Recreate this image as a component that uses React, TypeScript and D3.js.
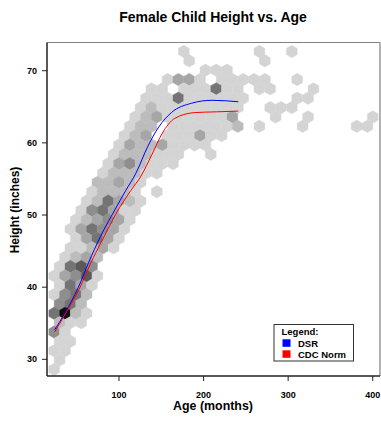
import React from "react";
import * as d3 from "d3";

const W = 381;
const H = 422;

const X_TICKS = [100, 200, 300, 400];
const Y_TICKS = [30, 40, 50, 60, 70];

// Smoothed growth curves (age in months, height in inches)
const DSR_AGE = [24, 36, 52, 64, 78, 95, 108, 120, 134, 147, 162, 186, 210, 241];
const DSR_HEIGHT = [34.1, 36.4, 40.0, 43.4, 47.0, 50.7, 53.4, 55.8, 59.5, 62.2, 64.2, 65.5, 65.9, 65.7];
const CDC_AGE = [24, 38, 54, 66, 81, 97, 114, 126, 139, 151, 166, 190, 215, 241];
const CDC_HEIGHT = [33.8, 36.6, 40.0, 43.2, 46.7, 50.3, 53.4, 55.4, 58.4, 61.3, 63.4, 64.2, 64.3, 64.4];

// Hexagonal binning lattice, in data units
const BIN_AGE_ORIGIN = 36.15;
const BIN_AGE_WIDTH = 12.77;
const BIN_HEIGHT_ORIGIN = 36.38;
const BIN_HEIGHT_STEP = 1.296;

// Count class of each occupied bin: [lattice row, first column, classes ('.' = empty)]
const HEX_ROWS: [number, number, string][] = [
  [28, 11, "1......1..1"],
  [27, 11, "1......1"],
  [26, 13, "111"],
  [25, 9, "1331.11111..1"],
  [24, 8, "11.111511.11...1"],
  [23, 7, "1115111111....11"],
  [22, 7, "1211111111..111"],
  [21, 6, "1231111113...1..1.....1"],
  [20, 6, "122.1111112.1...1....11"],
  [19, 5, "123.111311"],
  [18, 5, "132231111"],
  [17, 4, "1222111..1"],
  [16, 4, "1342111"],
  [15, 3, "122211"],
  [14, 3, "22321"],
  [13, 2, "12221.1"],
  [12, 2, "125321"],
  [11, 1, "145311"],
  [10, 1, "123431"],
  [9, 0, "135431"],
  [8, 1, "13531"],
  [7, 0, "11231"],
  [6, 0, "1232"],
  [5, -1, "1564"],
  [4, -1, "13461"],
  [3, -1, "1531"],
  [2, -1, "1452"],
  [1, -1, "452"],
  [0, -1, "5821"],
  [-1, -1, "211"],
  [-2, -1, "41"],
  [-3, -1, "11"],
  [-4, -1, "11"],
  [-5, -1, "1"],
  [-6, -1, "1"],
];

const SHADES = ["#d4d4d4", "#bcbcbc", "#a6a6a6", "#8e8e8e", "#747474", "#5a5a5a", "#3a3a3a", "#0e0e0e"];

const FONT = "'Liberation Sans', Arial, Helvetica, sans-serif";

const PLOT = { left: 47, right: 380, top: 42.5, bottom: 376 };

export default function App() {
  const x = d3.scaleLinear().domain([14.86, 408.6]).range([PLOT.left, PLOT.right]);
  const y = d3.scaleLinear().domain([27.69, 73.91]).range([PLOT.bottom, PLOT.top]);

  const hexW = x(BIN_AGE_WIDTH) - x(0);
  const r = hexW / Math.sqrt(3);
  const hexPath =
    `M0,${-r}L${hexW / 2},${-r / 2}L${hexW / 2},${r / 2}L0,${r}` +
    `L${-hexW / 2},${r / 2}L${-hexW / 2},${-r / 2}Z`;

  const cells: { age: number; height: number; level: number }[] = [];
  HEX_ROWS.forEach(([row, first, classes]) => {
    const shift = Math.abs(row) % 2 === 1 ? 0.5 : 0;
    for (let k = 0; k < classes.length; k++) {
      const c = classes[k];
      if (c === ".") continue;
      const col = first + k;
      cells.push({
        age: BIN_AGE_ORIGIN + (col + shift) * BIN_AGE_WIDTH,
        height: BIN_HEIGHT_ORIGIN + row * BIN_HEIGHT_STEP,
        level: +c,
      });
    }
  });

  const line = d3
    .line<[number, number]>()
    .x((d) => x(d[0]))
    .y((d) => y(d[1]))
    .curve(d3.curveMonotoneX);

  const dsr = line(DSR_AGE.map((a, i) => [a, DSR_HEIGHT[i]] as [number, number])) || "";
  const cdc = line(CDC_AGE.map((a, i) => [a, CDC_HEIGHT[i]] as [number, number])) || "";

  return (
    <svg
      width={W}
      height={H}
      viewBox={`0 0 ${W} ${H}`}
      style={{ position: "absolute", left: 0, top: 0, background: "#fff" }}
      fontFamily={FONT}
    >
      <rect x={0} y={0} width={W} height={H} fill="#fff" />

      <g>
        {cells.map((c, i) => {
          const fill = SHADES[c.level - 1];
          return (
            <path
              key={i}
              d={hexPath}
              transform={`translate(${x(c.age)},${y(c.height)})`}
              fill={fill}
              stroke={fill}
              strokeWidth={0.4}
            />
          );
        })}
      </g>

      <path d={dsr} fill="none" stroke="#0000ff" strokeWidth={1} />
      <path d={cdc} fill="none" stroke="#ff0000" strokeWidth={1} />

      {/* plot frame */}
      <line x1={PLOT.left} x2={PLOT.right} y1={PLOT.top} y2={PLOT.top} stroke="#808080" strokeWidth={1.2} />
      <line x1={PLOT.right} x2={PLOT.right} y1={PLOT.top} y2={PLOT.bottom} stroke="#808080" strokeWidth={1.2} />
      <line x1={PLOT.left} x2={PLOT.left} y1={PLOT.top} y2={PLOT.bottom} stroke="#222" strokeWidth={1.5} />
      <line x1={PLOT.left} x2={PLOT.right} y1={PLOT.bottom} y2={PLOT.bottom} stroke="#222" strokeWidth={1.5} />

      {/* x axis */}
      {X_TICKS.map((t) => (
        <g key={t} transform={`translate(${x(t)},${PLOT.bottom})`}>
          <line y1={0} y2={5} stroke="#222" strokeWidth={1} />
          <text y={22} textAnchor="middle" fontSize={9} fontWeight="bold">
            {t}
          </text>
        </g>
      ))}
      <text x={213} y={410} textAnchor="middle" fontSize={12.4} fontWeight="bold">
        Age (months)
      </text>

      {/* y axis */}
      {Y_TICKS.map((t) => (
        <g key={t} transform={`translate(${PLOT.left},${y(t)})`}>
          <line x1={0} x2={-5} stroke="#222" strokeWidth={1} />
          <text x={-10} dy="0.35em" textAnchor="end" fontSize={9} fontWeight="bold">
            {t}
          </text>
        </g>
      ))}
      <text
        transform={`translate(19,210) rotate(-90)`}
        textAnchor="middle"
        fontSize={12}
        fontWeight="bold"
      >
        Height (inches)
      </text>

      <text x={213} y={22} textAnchor="middle" fontSize={14} fontWeight="bold">
        Female Child Height vs. Age
      </text>

      {/* legend */}
      <g>
        <rect x={274} y={324.5} width={79.5} height={36.5} fill="#fff" stroke="#333" strokeWidth={1} />
        <text x={281.5} y={334.5} fontSize={9.5} fontWeight="bold">Legend:</text>
        <rect x={282.5} y={339.3} width={8} height={7.5} fill="#0000ff" />
        <text x={298} y={346.6} fontSize={9.5} fontWeight="bold">DSR</text>
        <rect x={282.5} y={350.3} width={8} height={7.5} fill="#ff0000" />
        <text x={298} y={357.6} fontSize={9.5} fontWeight="bold">CDC Norm</text>
      </g>
    </svg>
  );
}
